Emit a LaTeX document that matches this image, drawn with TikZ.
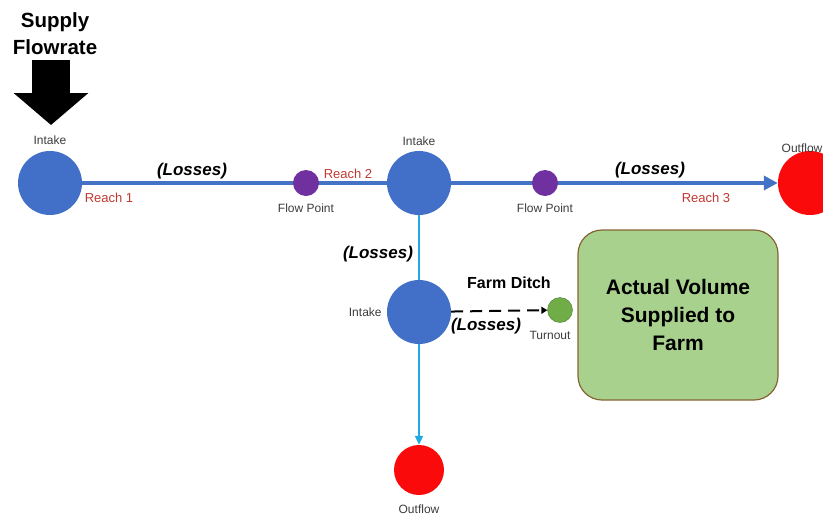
\documentclass[tikz,border=0pt]{standalone}
\usepackage{fontspec}
\setmainfont{Liberation Sans}
\usepackage{tikz}
\usetikzlibrary{positioning,arrows.meta}

\definecolor{nodeblue}{RGB}{66,112,200}
\definecolor{linkblue}{RGB}{68,114,196}
\definecolor{branchblue}{RGB}{32,170,225}
\definecolor{flowpurple}{RGB}{112,48,160}
\definecolor{outred}{RGB}{250,10,10}
\definecolor{turngreen}{RGB}{112,173,71}
\definecolor{farmgreen}{RGB}{169,209,142}
\definecolor{farmbrown}{RGB}{133,100,50}
\definecolor{reachred}{RGB}{192,57,50}
\definecolor{lblgray}{RGB}{60,60,60}

\begin{document}
\begin{tikzpicture}[x=1pt, y=-1pt,
        intake/.style={circle, fill=nodeblue, minimum size=64pt, inner sep=0pt},
        outflow/.style={circle, fill=outred, inner sep=0pt},
        flowpt/.style={circle, fill=flowpurple, minimum size=26pt, inner sep=0pt},
        small/.style={font=\fontsize{12}{14}\selectfont, text=lblgray, inner sep=1pt},
        reach/.style={font=\fontsize{13}{15}\selectfont, text=reachred},
        losses/.style={font=\fontsize{17}{19}\selectfont\bfseries\itshape},
        mainline/.style={draw=linkblue, line width=3.5pt},
        branch/.style={draw=branchblue, line width=2pt}]
                \useasboundingbox (0,0) rectangle (823,520);
                \node[align=center, font=\fontsize{20.5}{27}\selectfont\bfseries] (supply) at (55,34) {Supply\\Flowrate};
                \coordinate (supplytop) at (51,60);
                \coordinate (supplytip) at (51,125);
                \draw[line width=38pt, -{Triangle[width=73pt, length=32pt]}] (supplytop) -- (supplytip);
                \node[intake] (in1) at (50,183) {};
                \node[intake] (in2) at (419,183) {};
                \node[intake] (in3) at (419,312) {};
                \node[outflow, minimum size=64pt] (out1) at (810,183) {};
                \node[outflow, minimum size=50pt] (out2) at (419,470) {};
                \node[circle, fill=turngreen, draw=turngreen!70!black, minimum size=25pt, inner sep=0pt] (turn) at (560,310) {};
                \node[draw=farmbrown, line width=1.2pt, fill=farmgreen, rounded corners=24pt, minimum width=200pt, minimum height=170pt, align=center, font=\fontsize{21}{28}\selectfont\bfseries] (farm) at (678,315) {Actual Volume\\Supplied to\\Farm};
                \draw[mainline] (in1) -- (in2);
                \draw[mainline, -{Triangle[width=14pt, length=14pt]}] (in2) -- (out1);
                \draw[branch] (in2) -- (in3);
                \draw[branch, -{Triangle[width=8pt, length=9pt]}] (in3) -- (out2);
                \draw[line width=2pt, dash pattern=on 12pt off 7pt, -{Triangle[width=7pt, length=6pt]}] (in3) -- (turn);
                \node[flowpt] (fp1) at (306,183) {};
                \node[flowpt] (fp2) at (545,183) {};
                % labels
                \node[small, above=5pt of in1] (lin1) {Intake};
                \node[small, above=4pt of in2] (lin2) {Intake};
                \node[small, left=4pt of in3] (lin3) {Intake};
                \node[small, below=6pt of fp1] (lfp1) {Flow Point};
                \node[small, below=6pt of fp2] (lfp2) {Flow Point};
                \node[small] (lout1) at (802,148) {Outflow};
                \node[small, below=8pt of out2] (lout2) {Outflow};
                \node[small] (lturn) at (550,335) {Turnout};
                \node[reach] (r1) at (109,198) {Reach 1};
                \node[reach] (r2) at (348,174) {Reach 2};
                \node[reach] (r3) at (706,198) {Reach 3};
                \node[losses] (los1) at (192,171) {(Losses)};
                \node[losses] (los2) at (650,170) {(Losses)};
                \node[losses] (los3) at (378,254) {(Losses)};
                \node[losses] (los4) at (486,326) {(Losses)};
                \node[font=\fontsize{16}{18}\selectfont\bfseries] (ditch) at (509,283) {Farm Ditch};
            \end{tikzpicture}
\end{document}
